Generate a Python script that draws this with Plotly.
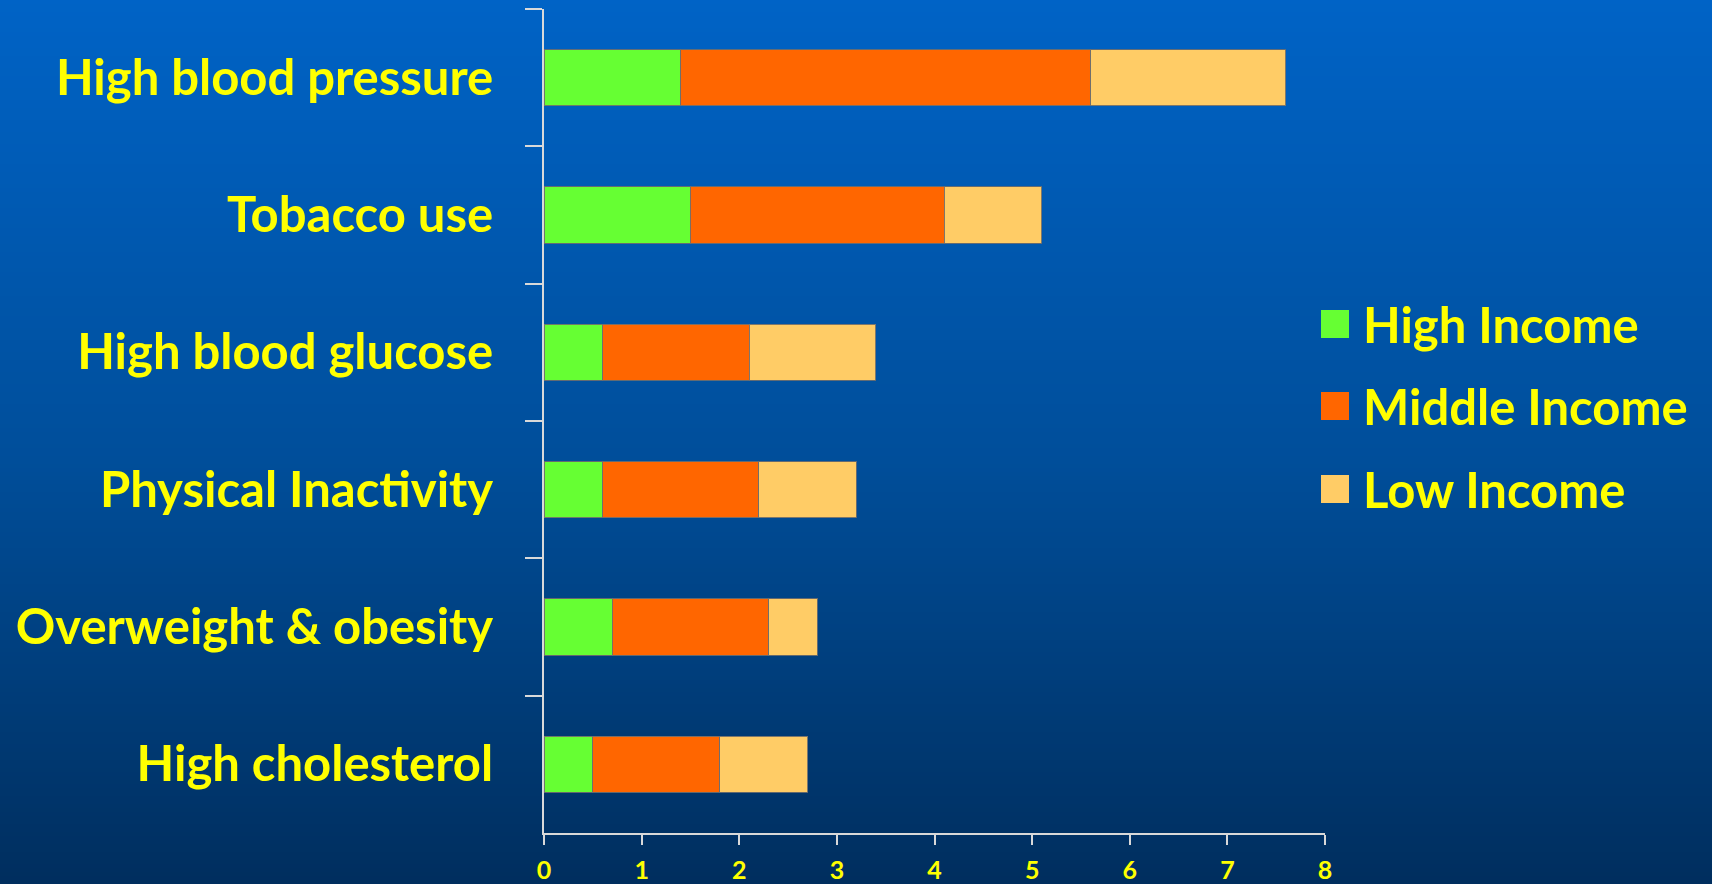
import plotly.graph_objects as go

# ---- data ----
categories = ["High blood pressure", "Tobacco use", "High blood glucose",
              "Physical Inactivity", "Overweight & obesity", "High cholesterol"]
high_income = [1.4, 1.5, 0.6, 0.6, 0.7, 0.5]
middle_income = [4.2, 2.6, 1.5, 1.6, 1.6, 1.3]
low_income = [2.0, 1.0, 1.3, 1.0, 0.5, 0.9]
series_names = ["High Income", "Middle Income", "Low Income"]
series_colors = ["#66FF33", "#FF6600", "#FFCC66"]
x_ticks = [0, 1, 2, 3, 4, 5, 6, 7, 8]

W, H = 1712, 884
ML, MR, MT, MB = 544, 387, 9, 51
PW, PH = W - ML - MR, H - MT - MB

def px_to_paper_x(px):
    return (px - ML) / PW

def px_to_paper_y(py):
    return (H - MB - py) / PH

fig = go.Figure()
for name, vals, col in zip(series_names, [high_income, middle_income, low_income], series_colors):
    fig.add_trace(go.Bar(
        y=categories, x=vals, name=name, orientation="h",
        marker=dict(color=col, line=dict(color="rgba(110,110,110,0.9)", width=1)),
        showlegend=False,
    ))

# background gradient as stripes
shapes = []
stops = [(0, (0, 99, 198)), (460, (0, 78, 154)), (884, (0, 46, 94))]
def col_at(y):
    for (y0, c0), (y1, c1) in zip(stops[:-1], stops[1:]):
        if y0 <= y <= y1:
            t = (y - y0) / (y1 - y0)
            return tuple(round(a + (b - a) * t) for a, b in zip(c0, c1))
    return stops[-1][1]
step = 4
for y in range(0, H, step):
    c = col_at(y + step / 2)
    y_bot = y + step + 1 if y + step < H else H + 20
    shapes.append(dict(type="rect", xref="paper", yref="paper",
                       x0=px_to_paper_x(-10), x1=px_to_paper_x(W + 10),
                       y0=px_to_paper_y(y_bot), y1=px_to_paper_y(y - (20 if y == 0 else 0)),
                       fillcolor="rgb(%d,%d,%d)" % c, line=dict(width=0), layer="below"))

# custom legend
annotations = []
legend_y = [324, 406, 489]
for name, col, ly in zip(series_names, series_colors, legend_y):
    shapes.append(dict(type="rect", xref="paper", yref="paper",
                       x0=px_to_paper_x(1321), x1=px_to_paper_x(1349),
                       y0=px_to_paper_y(ly + 14), y1=px_to_paper_y(ly - 14),
                       fillcolor=col, line=dict(width=0), layer="above"))
    annotations.append(dict(xref="paper", yref="paper", x=px_to_paper_x(1361), y=px_to_paper_y(ly),
                            text=name, showarrow=False, xanchor="left", yanchor="middle",
                            font=dict(family="Lato", size=49, color="#FFFF00", weight="bold")))

fig.update_layout(
    width=W, height=H, barmode="stack", bargap=0.59,
    margin=dict(l=ML, r=MR, t=MT, b=MB, pad=0, autoexpand=False),
    paper_bgcolor="rgb(0,46,94)", plot_bgcolor="rgba(0,0,0,0)",
    shapes=shapes, annotations=annotations,
    font=dict(family="Lato", color="#FFFF00"),
    xaxis=dict(range=[0, 8], tickvals=x_ticks, ticks="outside", ticklen=10, tickwidth=2,
               tickcolor="#D9D9D9", showline=True, linecolor="#D9D9D9", linewidth=2,
               showgrid=False, zeroline=False, ticklabelstandoff=4, automargin=False,
               tickfont=dict(family="Lato", size=25, color="#FFFF00", weight="bold")),
    yaxis=dict(autorange="reversed", ticks="outside", ticklen=17, tickwidth=2,
               tickcolor="#D9D9D9", tickson="boundaries", showline=True, linecolor="#D9D9D9",
               linewidth=2, showgrid=False, zeroline=False, ticklabelstandoff=39, automargin=False,
               tickfont=dict(family="Lato", size=49, color="#FFFF00", weight="bold")),
)

fig.write_html("out.html")
